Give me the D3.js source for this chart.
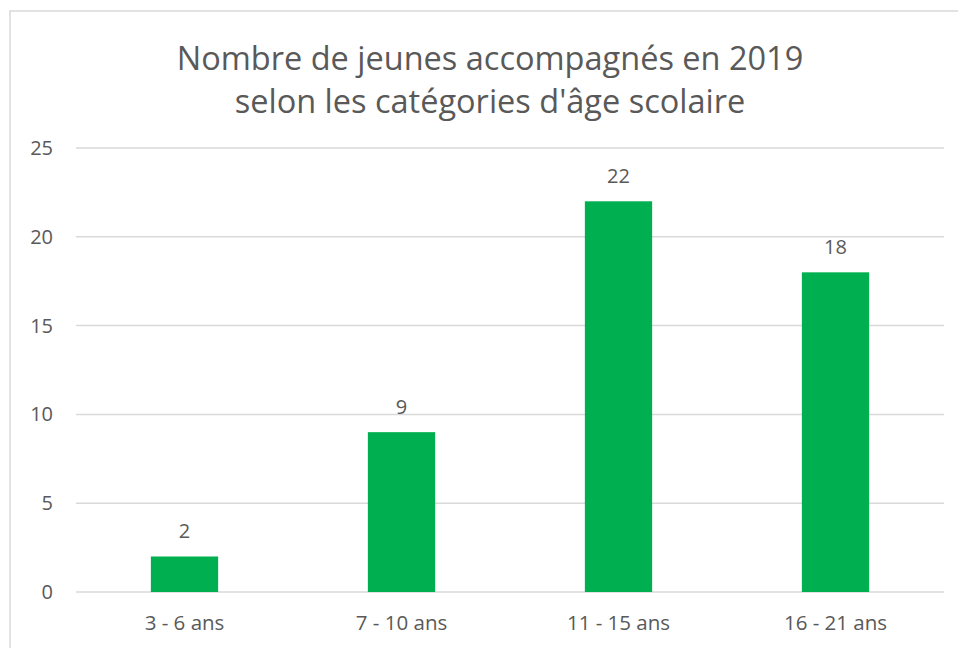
<!DOCTYPE html>
<meta charset="utf-8">
<script src="https://d3js.org/d3.v7.min.js"></script>
<style>
  body { margin: 0; background: #fff; }
  text { font-family: "Open Sans", sans-serif; fill: #595959; }
</style>
<div id="chart"></div>
<script>
// data
var categories = ["3 - 6 ans", "7 - 10 ans", "11 - 15 ans", "16 - 21 ans"];
var values = [2, 9, 22, 18];
var yTicks = [0, 5, 10, 15, 20, 25];
var titleLines = ["Nombre de jeunes accompagnés en 2019", "selon les catégories d'âge scolaire"];

var width = 958, height = 648;
var margin = {top: 148, right: 14, bottom: 56, left: 76};

var svg = d3.select("#chart").append("svg")
    .attr("width", width)
    .attr("height", height);

// chart frame
svg.append("rect")
    .attr("x", 10).attr("y", 11)
    .attr("width", width + 20).attr("height", height + 20)
    .attr("fill", "none")
    .attr("stroke", "#d9d9d9")
    .attr("stroke-width", 1.5);

// title
svg.append("g").selectAll("text")
  .data(titleLines)
  .enter().append("text")
    .attr("x", 490)
    .attr("y", function(d, i) { return 70 + i * 43; })
    .attr("text-anchor", "middle")
    .style("font-size", "32.5px")
    .text(function(d) { return d; });

var x = d3.scaleBand()
    .domain(categories)
    .range([margin.left, width - margin.right])
    .paddingInner(0.69)
    .paddingOuter(0.345);

var y = d3.scaleLinear()
    .domain([0, 25])
    .range([height - margin.bottom, margin.top]);

// gridlines
svg.append("g").selectAll("line")
  .data(yTicks)
  .enter().append("line")
    .attr("x1", margin.left)
    .attr("x2", width - margin.right)
    .attr("y1", function(d) { return y(d); })
    .attr("y2", function(d) { return y(d); })
    .attr("stroke", "#d9d9d9")
    .attr("stroke-width", 1.5);

// y axis labels
var yAxis = d3.axisLeft(y).tickValues(yTicks).tickSize(0).tickPadding(0);
svg.append("g")
    .attr("transform", "translate(53,0)")
    .call(yAxis)
    .call(function(g) { g.select(".domain").remove(); })
    .selectAll("text")
      .style("font-size", "20px")
      .style("font-family", "'Open Sans', sans-serif")
      .attr("fill", "#595959");

// x axis labels
var xAxis = d3.axisBottom(x).tickSize(0).tickPadding(0);
svg.append("g")
    .attr("transform", "translate(0," + (height - margin.bottom + 31) + ")")
    .call(xAxis)
    .call(function(g) { g.select(".domain").remove(); })
    .selectAll("text")
      .attr("dy", "0.35em")
      .style("font-size", "20.5px")
      .style("font-family", "'Open Sans', sans-serif")
      .attr("fill", "#595959");

// bars
var bars = categories.map(function(c, i) { return {cat: c, val: values[i]}; });
svg.append("g").selectAll("rect")
  .data(bars)
  .enter().append("rect")
    .attr("x", function(d) { return x(d.cat); })
    .attr("y", function(d) { return y(d.val); })
    .attr("width", x.bandwidth())
    .attr("height", function(d) { return y(0) - y(d.val); })
    .attr("fill", "#00b050");

// data labels
svg.append("g").selectAll("text")
  .data(bars)
  .enter().append("text")
    .attr("x", function(d) { return x(d.cat) + x.bandwidth() / 2; })
    .attr("y", function(d) { return y(d.val) - 18; })
    .attr("text-anchor", "middle")
    .style("font-size", "20px")
    .text(function(d) { return d.val; });
</script>
